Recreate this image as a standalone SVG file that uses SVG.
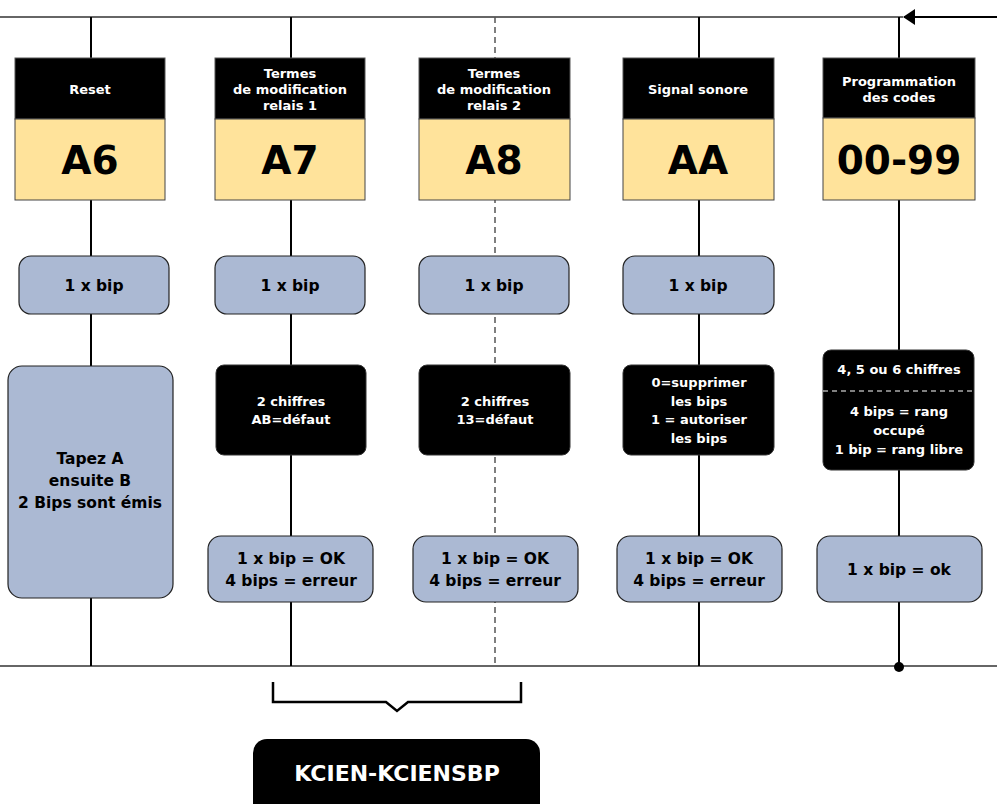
<svg xmlns="http://www.w3.org/2000/svg" width="997" height="804" viewBox="0 0 997 804">
<style>
.t{font-family:"DejaVu Sans","Verdana",sans-serif;font-weight:bold;text-anchor:middle}
.hdr{fill:#000;stroke:#555;stroke-width:1}
.code{fill:#ffe39b;stroke:#444;stroke-width:1}
.blue{fill:#abb9d3;stroke:#222;stroke-width:1.2}
.blk{fill:#000;stroke:#333;stroke-width:1}
.w{fill:#fff}
.k{fill:#000}
.s13{font-size:13px}
.s15{font-size:15.5px}
.big{font-size:39px}
</style>
<defs>
<marker id="ah" markerWidth="12" markerHeight="16" refX="11" refY="8" orient="auto" markerUnits="userSpaceOnUse">
<path d="M0,0 L12,8 L0,16 Z" fill="#000"/>
</marker>
</defs>
<g id="connectors">
<line x1="0" y1="17" x2="903" y2="17" stroke="#333" stroke-width="1.3"/>
<line x1="997" y1="17" x2="904" y2="17" stroke="#000" stroke-width="2.2" marker-end="url(#ah)"/>
<line x1="0" y1="666" x2="997" y2="666" stroke="#333" stroke-width="1.3"/>
<line x1="91" y1="17" x2="91" y2="666" stroke="#000" stroke-width="2"/>
<line x1="291" y1="17" x2="291" y2="666" stroke="#000" stroke-width="2"/>
<line x1="495" y1="17" x2="495" y2="666" stroke="#555" stroke-width="1.5" stroke-dasharray="6,4"/>
<line x1="699" y1="17" x2="699" y2="666" stroke="#000" stroke-width="2"/>
<line x1="899" y1="17" x2="899" y2="667" stroke="#000" stroke-width="2"/>
<circle cx="899" cy="667" r="5" fill="#000"/>
<path d="M273,682 L273,702 L386,702 L397,711 L408,702 L521,702 L521,682" fill="none" stroke="#000" stroke-width="2.5"/>
</g>
<g id="col1">
<rect class="hdr" x="15" y="58" width="150" height="61"/>
<text class="t w s13" x="90" y="94">Reset</text>
<rect class="code" x="15" y="119" width="150" height="81"/>
<text class="t k big" x="90" y="174">A6</text>
<rect class="blue" x="19" y="256" width="150" height="58" rx="12"/>
<text class="t k s15" x="94" y="291">1 x bip</text>
<rect class="blue" x="8" y="366" width="165" height="232" rx="14"/>
<text class="t k s15" x="90" y="464">Tapez A</text>
<text class="t k s15" x="90" y="486">ensuite B</text>
<text class="t k s15" x="90" y="508">2 Bips sont émis</text>
</g>
<g id="col2">
<rect class="hdr" x="215" y="58" width="150" height="61"/>
<text class="t w s13" x="290" y="78">Termes</text>
<text class="t w s13" x="290" y="94">de modification</text>
<text class="t w s13" x="290" y="110">relais 1</text>
<rect class="code" x="215" y="119" width="150" height="81"/>
<text class="t k big" x="290" y="174">A7</text>
<rect class="blue" x="215" y="256" width="150" height="58" rx="12"/>
<text class="t k s15" x="290" y="291">1 x bip</text>
<rect class="blk" x="216" y="365" width="150" height="90" rx="8"/>
<text class="t w s13" x="291" y="406">2 chiffres</text>
<text class="t w s13" x="291" y="424">AB=défaut</text>
<rect class="blue" x="208" y="536" width="165" height="66" rx="13"/>
<text class="t k s15" x="291" y="564">1 x bip = OK</text>
<text class="t k s15" x="291" y="586">4 bips = erreur</text>
</g>
<g id="col3">
<rect class="hdr" x="419" y="58" width="151" height="61"/>
<text class="t w s13" x="494" y="78">Termes</text>
<text class="t w s13" x="494" y="94">de modification</text>
<text class="t w s13" x="494" y="110">relais 2</text>
<rect class="code" x="419" y="119" width="151" height="81"/>
<text class="t k big" x="494" y="174">A8</text>
<rect class="blue" x="419" y="256" width="150" height="58" rx="12"/>
<text class="t k s15" x="494" y="291">1 x bip</text>
<rect class="blk" x="419" y="365" width="151" height="90" rx="8"/>
<text class="t w s13" x="495" y="406">2 chiffres</text>
<text class="t w s13" x="495" y="424">13=défaut</text>
<rect class="blue" x="413" y="536" width="165" height="66" rx="13"/>
<text class="t k s15" x="495" y="564">1 x bip = OK</text>
<text class="t k s15" x="495" y="586">4 bips = erreur</text>
</g>
<g id="col4">
<rect class="hdr" x="623" y="58" width="151" height="61"/>
<text class="t w s13" x="698" y="94">Signal sonore</text>
<rect class="code" x="623" y="119" width="151" height="81"/>
<text class="t k big" x="698" y="174">AA</text>
<rect class="blue" x="623" y="256" width="151" height="58" rx="12"/>
<text class="t k s15" x="698" y="291">1 x bip</text>
<rect class="blk" x="623" y="365" width="151" height="90" rx="8"/>
<text class="t w s13" x="699" y="387">0=supprimer</text>
<text class="t w s13" x="699" y="406">les bips</text>
<text class="t w s13" x="699" y="424">1 = autoriser</text>
<text class="t w s13" x="699" y="443">les bips</text>
<rect class="blue" x="617" y="536" width="165" height="66" rx="13"/>
<text class="t k s15" x="699" y="564">1 x bip = OK</text>
<text class="t k s15" x="699" y="586">4 bips = erreur</text>
</g>
<g id="col5">
<rect class="hdr" x="823" y="58" width="152" height="60"/>
<text class="t w s13" x="899" y="86">Programmation</text>
<text class="t w s13" x="899" y="102">des codes</text>
<rect class="code" x="823" y="118" width="152" height="82"/>
<text class="t k big" x="899" y="174">00-99</text>
<rect class="blk" x="823" y="350" width="151" height="120" rx="8"/>
<text class="t w s13" x="899" y="374">4, 5 ou 6 chiffres</text>
<line x1="823" y1="391" x2="974" y2="391" stroke="#fff" stroke-width="1.2" stroke-dasharray="5,4"/>
<text class="t w s13" x="899" y="416">4 bips = rang</text>
<text class="t w s13" x="899" y="435">occupé</text>
<text class="t w s13" x="899" y="454">1 bip = rang libre</text>
<rect class="blue" x="817" y="536" width="165" height="66" rx="13"/>
<text class="t k s15" x="899" y="575">1 x bip = ok</text>
</g>
<g id="kcien">
<rect x="253" y="739" width="287" height="80" rx="14" fill="#000"/>
<text class="t w" x="397" y="781" font-size="22">KCIEN-KCIENSBP</text>
</g>
</svg>
